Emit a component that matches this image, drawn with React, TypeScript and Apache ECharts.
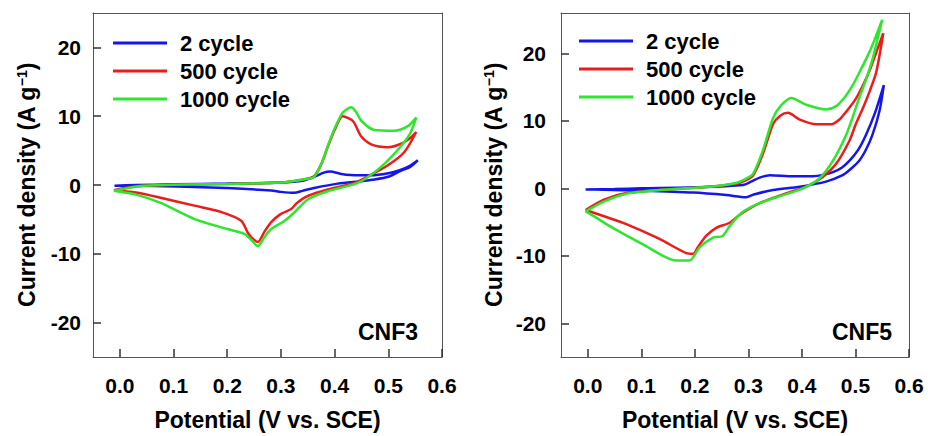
import React, { useEffect, useRef } from "react";
import * as echarts from "echarts";

const seriesNames = ["2 cycle", "500 cycle", "1000 cycle"];
const seriesColors = ["#1515ee", "#ec1c1c", "#2ee62e"];
const xTicks = [0, 0.1, 0.2, 0.3, 0.4, 0.5, 0.6];
const yTicks = [-20, -10, 0, 10, 20];
const panelLabels = ["CNF3", "CNF5"];

// CNF3 (left panel) — [potential V, current density A/g], loop order
const cnf3Cycle2 = [
  [-0.01, -0.1], [0.03, 0.0], [0.1, 0.1], [0.2, 0.2], [0.3, 0.35], [0.34, 0.6], [0.362, 1.2], [0.38, 1.8],
  [0.392, 1.95], [0.41, 1.65], [0.43, 1.45], [0.468, 1.4], [0.5, 1.7], [0.52, 2.1], [0.54, 2.8], [0.555, 3.6],
  [0.54, 2.6], [0.524, 2.1], [0.5, 1.2], [0.47, 0.75], [0.45, 0.55], [0.406, 0.2], [0.362, -0.43], [0.34, -0.85],
  [0.325, -1.14], [0.3, -1.0], [0.282, -0.8], [0.2, -0.45], [0.107, -0.2], [0.03, -0.1], [-0.01, -0.1],
];
const cnf3Cycle500 = [
  [-0.011, -0.76], [0.02, -0.3], [0.045, -0.1], [0.1, 0.05], [0.2, 0.15], [0.3, 0.35], [0.325, 0.6], [0.35, 0.9],
  [0.362, 1.3], [0.375, 3.0], [0.387, 5.5], [0.4, 8.0], [0.415, 10.0], [0.434, 9.3], [0.45, 7.0], [0.468, 5.9],
  [0.499, 5.5], [0.524, 6.0], [0.54, 6.8], [0.552, 7.7],
  [0.53, 4.8], [0.5, 2.9], [0.468, 1.5], [0.437, 0.3], [0.387, -0.66], [0.35, -1.6], [0.33, -2.6], [0.319, -3.5],
  [0.3, -4.2], [0.282, -5.4], [0.27, -6.7], [0.257, -8.3], [0.245, -7.6], [0.238, -6.9], [0.226, -5.2],
  [0.188, -3.9], [0.139, -3.0], [0.076, -1.86], [0.03, -1.1], [-0.011, -0.76],
];
const cnf3Cycle1000 = [
  [-0.011, -0.85], [0.02, -0.35], [0.045, -0.1], [0.1, 0.05], [0.2, 0.15], [0.3, 0.35], [0.325, 0.6], [0.35, 0.9],
  [0.362, 1.2], [0.375, 3.0], [0.387, 5.6], [0.4, 8.2], [0.415, 10.5], [0.431, 11.3], [0.44, 10.6], [0.45, 9.3],
  [0.474, 8.0], [0.512, 7.9], [0.537, 8.6], [0.552, 9.8],
  [0.54, 7.4], [0.512, 4.6], [0.48, 2.2], [0.443, 0.3], [0.387, -0.9], [0.35, -2.1], [0.325, -4.0], [0.307, -5.2],
  [0.282, -6.4], [0.27, -7.5], [0.257, -8.9], [0.245, -8.0], [0.232, -7.1], [0.2, -6.4], [0.139, -4.95],
  [0.076, -2.6], [0.03, -1.4], [-0.011, -0.85],
];

// CNF5 (right panel)
const cnf5Cycle2 = [
  [-0.004, -0.15], [0.05, -0.1], [0.1, 0.0], [0.2, 0.15], [0.29, 0.5], [0.305, 1.0], [0.321, 1.6], [0.34, 1.95],
  [0.383, 1.8], [0.42, 1.8], [0.44, 2.0], [0.458, 2.4], [0.475, 3.1], [0.489, 4.1], [0.505, 5.7], [0.52, 8.0],
  [0.537, 11.3], [0.553, 15.3],
  [0.545, 11.5], [0.532, 8.0], [0.52, 5.8], [0.507, 4.1], [0.49, 2.8], [0.476, 1.95], [0.445, 1.0], [0.396, 0.25],
  [0.346, -0.25], [0.31, -0.9], [0.296, -1.3], [0.259, -1.0], [0.197, -0.63], [0.103, -0.34], [0.03, -0.2],
  [-0.004, -0.15],
];
const cnf5Cycle500 = [
  [-0.004, -3.2], [0.029, -1.7], [0.072, -0.7], [0.134, -0.25], [0.228, 0.25], [0.277, 0.7], [0.295, 1.2],
  [0.309, 1.95], [0.327, 5.1], [0.346, 9.5], [0.36, 10.8], [0.374, 11.2], [0.396, 10.2], [0.427, 9.5],
  [0.455, 9.5], [0.47, 10.2], [0.483, 11.4], [0.5, 13.2], [0.514, 15.3], [0.527, 17.6], [0.539, 20.2], [0.552, 23.0],
  [0.539, 17.3], [0.527, 14.5], [0.514, 11.9], [0.5, 9.4], [0.489, 7.1], [0.464, 3.65], [0.439, 1.7], [0.408, 0.25],
  [0.371, -0.73], [0.321, -2.2], [0.284, -3.9], [0.265, -5.1], [0.24, -5.85], [0.221, -7.05], [0.205, -8.8],
  [0.197, -9.7], [0.184, -9.6], [0.134, -7.5], [0.072, -5.3], [0.029, -4.1], [-0.004, -3.2],
];
const cnf5Cycle1000 = [
  [-0.004, -3.4], [0.029, -2.0], [0.072, -0.8], [0.134, -0.25], [0.228, 0.25], [0.277, 0.8], [0.295, 1.4],
  [0.309, 2.2], [0.327, 5.6], [0.346, 10.4], [0.36, 12.2], [0.38, 13.4], [0.408, 12.4], [0.445, 11.7],
  [0.464, 12.2], [0.48, 13.5], [0.495, 15.3], [0.51, 17.6], [0.526, 20.2], [0.538, 22.5], [0.55, 25.0],
  [0.532, 19.2], [0.52, 16.2], [0.507, 13.4], [0.495, 10.6], [0.483, 8.0], [0.458, 4.1], [0.433, 1.5],
  [0.402, 0.0], [0.365, -1.0], [0.321, -2.2], [0.287, -3.65], [0.265, -5.6], [0.252, -7.05], [0.234, -7.3],
  [0.209, -8.75], [0.19, -10.7], [0.165, -10.7], [0.103, -8.3], [0.041, -5.6], [0.015, -4.3], [-0.004, -3.4],
];

const FONT = "'Liberation Sans', Arial, sans-serif";
const X_MIN = -0.05;
const X_MAX = 0.6;
const Y_MIN = -25;
const Y_MAX = [25, 26];

export default function App() {
  const ref = useRef<HTMLDivElement>(null);
  useEffect(() => {
    if (!ref.current) return;
    const chart = echarts.init(ref.current, null, { renderer: "svg" });
    const panelData = [
      [cnf3Cycle2, cnf3Cycle500, cnf3Cycle1000],
      [cnf5Cycle2, cnf5Cycle500, cnf5Cycle1000],
    ];
    const grids = [
      { left: 93, top: 13, width: 349, height: 349 },
      { left: 561, top: 13, width: 348, height: 349 },
    ];
    const frameLine = () => ({ show: true, onZero: false, lineStyle: { color: "#555", width: 1 } });
    const ticks = (vals: number[]) => ({
      show: true,
      inside: true,
      length: 8,
      customValues: vals,
      lineStyle: { color: "#333", width: 1.5 },
    });
    const label = (margin: number, vals: number[], fmt?: (v: number) => string) => ({
      color: "#000",
      fontSize: 21,
      fontWeight: "bold",
      fontFamily: FONT,
      margin,
      customValues: vals,
      ...(fmt ? { formatter: fmt } : {}),
    });

    const xAxes: any[] = [];
    const yAxes: any[] = [];
    grids.forEach((_, i) => {
      xAxes.push({
        type: "value",
        gridIndex: i,
        position: "bottom",
        min: X_MIN,
        max: X_MAX,
        axisLine: frameLine(),
        splitLine: { show: false },
        axisTick: ticks(xTicks),
        axisLabel: label(18, xTicks, (v: number) => v.toFixed(1)),
        name: "Potential (V vs. SCE)",
        nameLocation: "middle",
        nameGap: 51,
        nameTextStyle: { color: "#000", fontSize: 23, fontWeight: "bold", fontFamily: FONT },
      });
      yAxes.push({
        type: "value",
        gridIndex: i,
        position: "left",
        min: Y_MIN,
        max: Y_MAX[i],
        axisLine: frameLine(),
        splitLine: { show: false },
        axisTick: ticks(yTicks),
        axisLabel: label(i === 0 ? 12 : 15, yTicks),
        name: "Current density (A g{sup|−1})",
        nameLocation: "middle",
        nameGap: i === 0 ? 55 : 56,
        nameRotate: 90,
        nameTextStyle: {
          color: "#000",
          fontSize: 23,
          fontWeight: "bold",
          fontFamily: FONT,
          rich: {
            sup: { fontSize: 14, fontWeight: "bold", fontFamily: FONT, color: "#000", verticalAlign: "top", padding: [0, 0, 8, 0] },
          },
        },
      });
    });
    // top and right frame edges as plain axis lines
    grids.forEach((_, i) => {
      xAxes.push({
        type: "value",
        gridIndex: i,
        position: "top",
        min: X_MIN,
        max: X_MAX,
        axisLine: frameLine(),
        axisTick: { show: false },
        axisLabel: { show: false },
        splitLine: { show: false },
      });
      yAxes.push({
        type: "value",
        gridIndex: i,
        position: "right",
        min: Y_MIN,
        max: Y_MAX[i],
        axisLine: frameLine(),
        axisTick: { show: false },
        axisLabel: { show: false },
        splitLine: { show: false },
      });
    });

    const series: any[] = [];
    panelData.forEach((curves, pi) => {
      curves.forEach((d, si) => {
        series.push({
          type: "line",
          name: seriesNames[si],
          xAxisIndex: pi,
          yAxisIndex: pi,
          data: d,
          symbol: "none",
          smooth: 0.25,
          lineStyle: { color: seriesColors[si], width: 2.5 },
          itemStyle: { color: seriesColors[si] },
        });
      });
    });

    const legendBase = {
      orient: "vertical",
      data: seriesNames,
      icon: "rect",
      itemWidth: 54,
      itemHeight: 3,
      itemGap: 6,
      padding: 0,
      selectedMode: false,
      textStyle: { color: "#000", fontSize: 22, fontWeight: "bold", fontFamily: FONT, padding: [0, 0, 0, 8] },
    };
    chart.setOption({
      animation: false,
      grid: grids,
      xAxis: xAxes,
      yAxis: yAxes,
      legend: [
        { ...legendBase, left: 113, top: 32 },
        { ...legendBase, left: 579, top: 30 },
      ],
      graphic: [
        {
          type: "text",
          right: 928 - 418,
          top: 320,
          style: { text: panelLabels[0], fill: "#000", fontSize: 23, fontWeight: "bold", fontFamily: FONT },
        },
        {
          type: "text",
          right: 928 - 892,
          top: 320,
          style: { text: panelLabels[1], fill: "#000", fontSize: 23, fontWeight: "bold", fontFamily: FONT },
        },
      ],
      series,
    });
    return () => chart.dispose();
  }, []);
  return <div ref={ref} style={{ position: "fixed", left: 0, top: 0, width: 928, height: 436, background: "#fff" }} />;
}
